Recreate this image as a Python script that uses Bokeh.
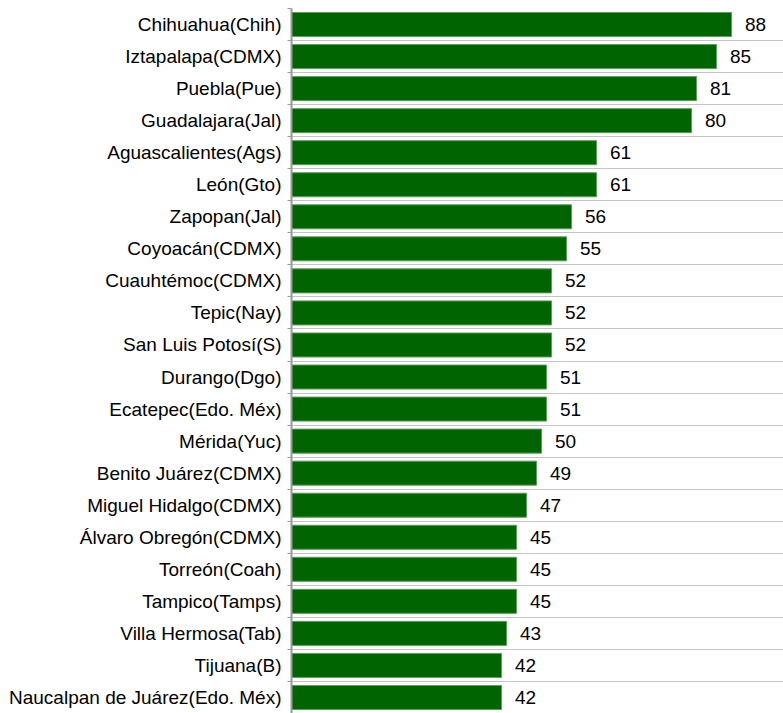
from bokeh.plotting import figure
from bokeh.models import ColumnDataSource, FixedTicker, Range1d, LabelSet
from bokeh.core.properties import value
from bokeh.embed import file_html
from bokeh.resources import INLINE

cities = ["Chihuahua(Chih)", "Iztapalapa(CDMX)", "Puebla(Pue)", "Guadalajara(Jal)",
          "Aguascalientes(Ags)", "León(Gto)", "Zapopan(Jal)", "Coyoacán(CDMX)",
          "Cuauhtémoc(CDMX)", "Tepic(Nay)", "San Luis Potosí(S)", "Durango(Dgo)",
          "Ecatepec(Edo. Méx)", "Mérida(Yuc)", "Benito Juárez(CDMX)", "Miguel Hidalgo(CDMX)",
          "Álvaro Obregón(CDMX)", "Torreón(Coah)", "Tampico(Tamps)", "Villa Hermosa(Tab)",
          "Tijuana(B)", "Naucalpan de Juárez(Edo. Méx)"]
values = [88, 85, 81, 80, 61, 61, 56, 55, 52, 52, 52, 51, 51, 50, 49, 47, 45, 45, 45, 43, 42, 42]

n = len(cities)
ypos = [n - i - 0.5 for i in range(n)]
boundaries = list(range(n + 1))

src = ColumnDataSource(dict(y=ypos, v=values, lab=[str(v) for v in values], city=cities))

FONT = "Liberation Sans"
FS = "19px"

p = figure(width=783, height=713, output_backend="svg", toolbar_location=None,
           x_range=Range1d(0, 98.4), y_range=Range1d(0, n),
           x_axis_location=None, min_border_left=291, min_border_right=0,
           min_border_top=8, min_border_bottom=0)
p.outline_line_color = None
p.background_fill_color = "white"

p.hbar(y="y", right="v", left=0, height=0.75, source=src,
       fill_color="#006400", line_color="#5e9e5e", line_width=1)

labels = LabelSet(x="v", y="y", text="lab", source=src, x_offset=24,
                  text_align="center", text_baseline="middle",
                  text_font=value(FONT), text_font_size=value(FS), text_color="#000000")
p.add_layout(labels)

ax = p.yaxis[0]
ax.ticker = FixedTicker(ticks=ypos, minor_ticks=boundaries)
ax.major_label_overrides = {y: c for y, c in zip(ypos, cities)}
ax.major_tick_out = 0
ax.major_tick_in = 0
ax.minor_tick_out = 4
ax.minor_tick_in = 0
ax.minor_tick_line_color = "#999999"
ax.axis_line_color = "#999999"
ax.axis_line_width = 2
ax.major_label_standoff = 6
ax.major_label_text_font = FONT
ax.major_label_text_font_size = FS
ax.major_label_text_color = "#000000"

p.ygrid.ticker = FixedTicker(ticks=boundaries)
p.ygrid.grid_line_color = "#c4c4c4"
p.ygrid.grid_line_width = 1
for g in p.xgrid:
    g.grid_line_color = None

open("out.html", "w").write(file_html(p, INLINE))
